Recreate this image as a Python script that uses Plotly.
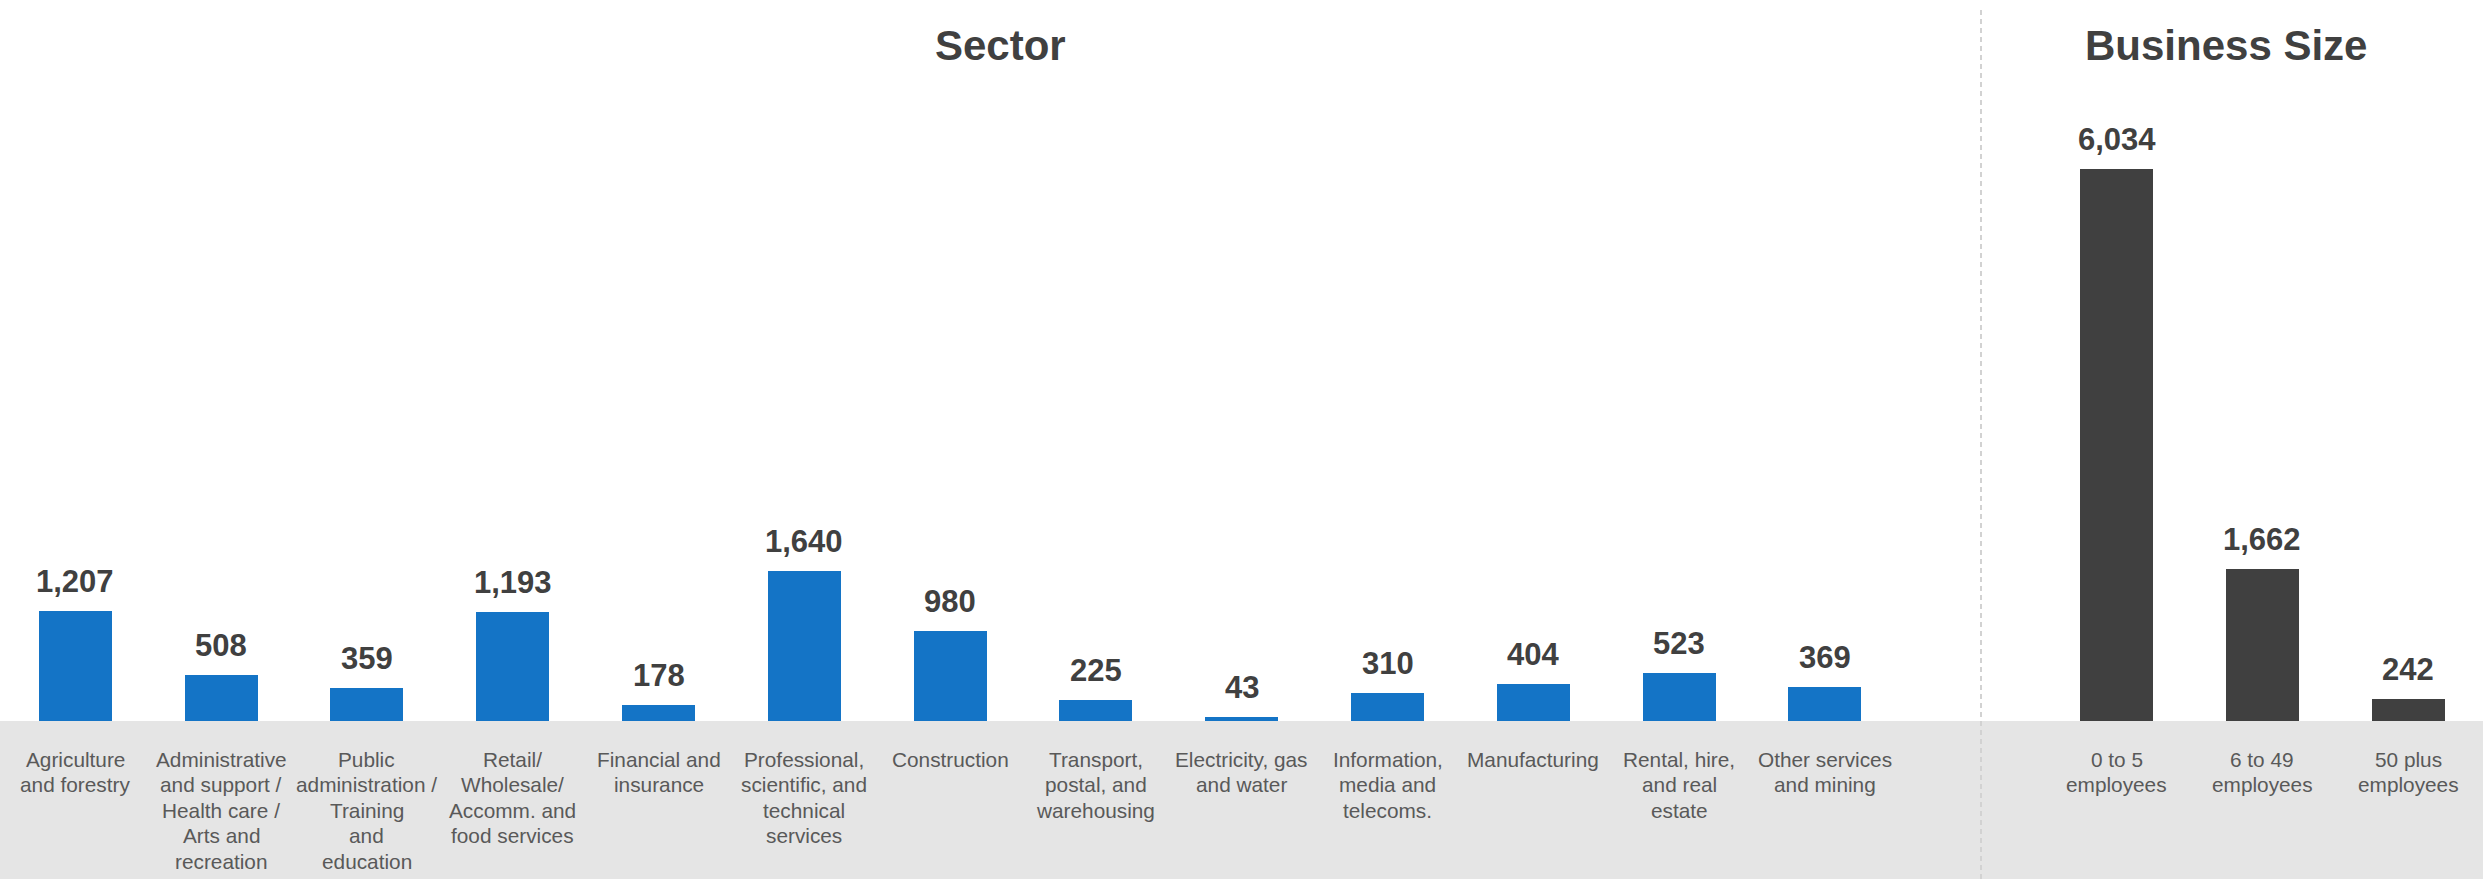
import plotly.graph_objects as go

# ---------------- data ----------------
sector_labels = [
    "Agriculture<br>and forestry",
    "Administrative<br>and support /<br>Health care /<br>Arts and<br>recreation",
    "Public<br>administration /<br>Training<br>and<br>education",
    "Retail/<br>Wholesale/<br>Accomm. and<br>food services",
    "Financial and<br>insurance",
    "Professional,<br>scientific, and<br>technical<br>services",
    "Construction",
    "Transport,<br>postal, and<br>warehousing",
    "Electricity, gas<br>and water",
    "Information,<br>media and<br>telecoms.",
    "Manufacturing",
    "Rental, hire,<br>and real<br>estate",
    "Other services<br>and mining",
]
sector_values = [1207, 508, 359, 1193, 178, 1640, 980, 225, 43, 310, 404, 523, 369]

size_labels = ["0 to 5<br>employees", "6 to 49<br>employees", "50 plus<br>employees"]
size_values = [6034, 1662, 242]

panel_titles = ["Sector", "Business Size"]

# ---------------- layout constants ----------------
W, H = 2483, 879
PLOT_H = 721
MB = H - PLOT_H
SLOT = 145.8
X0 = -0.5 - 2.4 / SLOT
X1 = X0 + W / SLOT
YMAX = PLOT_H * 6034 / 552.0
LINE_STEP = 25.4
FIRST_LINE_MID = 759.5

BLUE = "#1474c6"
DARK = "#404040"
BAND = "#e5e5e5"
LABEL_C = "#595959"
FONT = "Liberation Sans, Arial, sans-serif"

sector_x = list(range(len(sector_values)))
size_x = [len(sector_values) + 1 + i for i in range(len(size_values))]

fig = go.Figure()
fig.add_trace(go.Bar(x=sector_x, y=sector_values, marker_color=BLUE,
                     width=0.5, marker_line_width=0, hoverinfo="skip"))
fig.add_trace(go.Bar(x=size_x, y=size_values, marker_color=DARK,
                     width=0.5, marker_line_width=0, hoverinfo="skip"))

annotations = []
for xs, vs, labs in ((sector_x, sector_values, sector_labels),
                     (size_x, size_values, size_labels)):
    for x, v, lab in zip(xs, vs, labs):
        annotations.append(dict(
            x=x, y=v, xref="x", yref="y", text=f"<b>{v:,}</b>",
            showarrow=False, yanchor="bottom", yshift=10,
            font=dict(family=FONT, size=31, color=DARK)))
        for i, line in enumerate(lab.split("<br>")):
            annotations.append(dict(
                x=x, y=-(FIRST_LINE_MID - PLOT_H) / PLOT_H, xref="x",
                yref="paper", yshift=-i * LINE_STEP, text=line,
                showarrow=False, yanchor="middle", xanchor="center",
                font=dict(family=FONT, size=20.8, color=LABEL_C)))

title_px = [1000, 2226]
for t, px in zip(panel_titles, title_px):
    annotations.append(dict(
        x=px / W, y=1 - 46 / PLOT_H, xref="paper", yref="paper",
        text=f"<b>{t}</b>", showarrow=False, xanchor="center", yanchor="middle",
        font=dict(family=FONT, size=42, color=DARK)))

div_x = 1981 / W
shapes = [dict(type="line", xref="paper", yref="paper",
               x0=div_x, x1=div_x, y0=1 - 10 / PLOT_H, y1=-(MB) / PLOT_H,
               line=dict(color="#d2d2d2", width=2, dash="5px,4px"))]

fig.update_layout(
    width=W, height=H,
    margin=dict(l=0, r=0, t=0, b=MB, pad=0),
    paper_bgcolor=BAND, plot_bgcolor="white",
    showlegend=False, bargap=0,
    xaxis=dict(range=[X0, X1], showticklabels=False, showgrid=False,
               zeroline=False, showline=False, ticks=""),
    yaxis=dict(range=[0, YMAX], showticklabels=False, showgrid=False,
               zeroline=False, showline=False, ticks=""),
    annotations=annotations, shapes=shapes,
)

fig.write_html("out.html", config={"displayModeBar": False},
               post_script="document.body.style.margin='0';")
